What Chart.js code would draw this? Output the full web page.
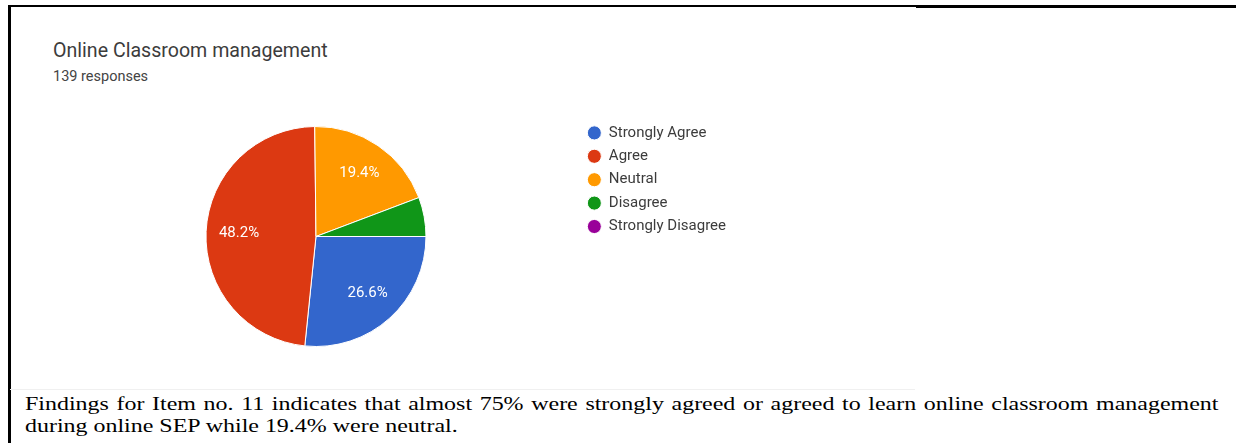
<!DOCTYPE html>
<html lang="en">
<head>
<meta charset="UTF-8">
<title>Online Classroom management</title>
<script src="https://cdn.jsdelivr.net/npm/chart.js"></script>
<style>
    body {
        margin: 0;
        width: 1236px;
        height: 443px;
        background: #fff;
        position: relative;
        overflow: hidden;
    }
    .rule { position: absolute; background: #000; }
    #title {
        position: absolute;
        left: 53px;
        top: 41px;
        font: 19.6px Roboto, sans-serif;
        line-height: 20px;
        color: #3c3c3c;
        white-space: nowrap;
    }
    #subtitle {
        position: absolute;
        left: 53px;
        top: 69px;
        font: 14.5px Roboto, sans-serif;
        line-height: 15px;
        color: #444;
        white-space: nowrap;
    }
    #chartBox {
        position: absolute;
        left: 53px;
        top: 117px;
        width: 683px;
        height: 239px;
    }
    #shotEdge {
        position: absolute;
        left: 10px;
        top: 389px;
        width: 905px;
        height: 1px;
        background: #f0f0f0;
    }
    /* the caption in the source image is stretched sideways */
    .caption {
        position: absolute;
        left: 25px;
        width: 936px;
        font: 18.8px "Liberation Serif", "Times New Roman", serif;
        line-height: 22px;
        color: #000;
        white-space: nowrap;
        transform: scaleX(1.275);
        transform-origin: 0 0;
    }
    #line1 { top: 393px; text-align: justify; text-align-last: justify; white-space: normal; }
    #line2 { top: 415px; }
</style>
</head>
<body>

<div class="rule" style="left:8px; top:5px; width:908px; height:1.5px;"></div>
<div class="rule" style="left:916px; top:5px; width:320px; height:2.5px;"></div>
<div class="rule" style="left:8px; top:5px; width:2.5px; height:438px;"></div>

<div id="title">Online Classroom management</div>
<div id="subtitle">139 responses</div>

<div id="chartBox"><canvas id="myPieChart"></canvas></div>

<div id="shotEdge"></div>
<div class="caption" id="line1">Findings for Item no. 11 indicates that almost 75% were strongly agreed or agreed to learn online classroom management</div>
<div class="caption" id="line2">during online SEP while 19.4% were neutral.</div>

<script>
// answers and number of responses (139 in total)
var answers = ['Strongly Agree', 'Agree', 'Neutral', 'Disagree', 'Strongly Disagree'];
var counts = [37, 67, 27, 8, 0];
var sliceColors = ['#3366cc', '#dc3912', '#ff9900', '#109618', '#990099'];

var total = counts.reduce(function (a, b) { return a + b; }, 0);

// white percentage text inside the bigger slices
var sliceLabels = {
    id: 'sliceLabels',
    afterDatasetsDraw: function (chart) {
        var ctx = chart.ctx;
        var meta = chart.getDatasetMeta(0);
        ctx.save();
        ctx.font = '15px Roboto, sans-serif';
        ctx.fillStyle = '#ffffff';
        ctx.textAlign = 'center';
        ctx.textBaseline = 'middle';
        meta.data.forEach(function (arc, i) {
            var pct = counts[i] / total * 100;
            if (pct < 10) return;
            var p = arc.getProps(['x', 'y', 'startAngle', 'endAngle', 'outerRadius'], true);
            var mid = (p.startAngle + p.endAngle) / 2;
            var r = p.outerRadius * 0.7;
            ctx.fillText(pct.toFixed(1) + '%', p.x + Math.cos(mid) * r, p.y + Math.sin(mid) * r);
        });
        ctx.restore();
    }
};

var ctxPie = document.getElementById('myPieChart').getContext('2d');
var myPieChart = new Chart(ctxPie, {
    type: 'pie',
    data: {
        labels: answers,
        datasets: [{
            data: counts,
            backgroundColor: sliceColors,
            borderColor: '#ffffff',
            borderWidth: 1
        }]
    },
    options: {
        responsive: true,
        maintainAspectRatio: false,
        animation: false,
        rotation: 90,
        radius: 110,
        layout: { padding: 0 },
        plugins: {
            tooltip: { enabled: false },
            legend: {
                position: 'right',
                align: 'start',
                labels: {
                    usePointStyle: true,
                    pointStyle: 'circle',
                    boxHeight: 10,
                    pointStyleWidth: 14,
                    padding: 8.4,
                    color: '#3c3c3c',
                    font: { family: 'Roboto', size: 15 }
                }
            }
        }
    },
    plugins: [sliceLabels]
});
</script>

</body>
</html>
